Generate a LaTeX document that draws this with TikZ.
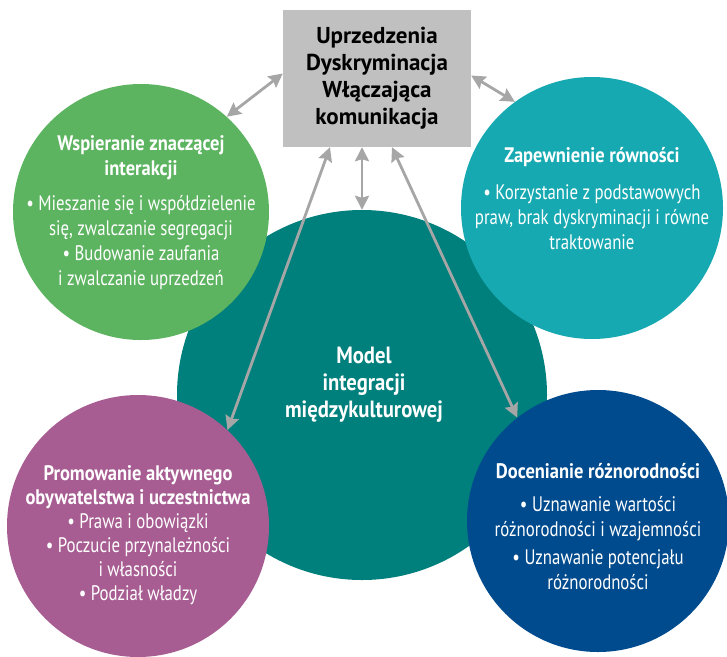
\documentclass[tikz,border=0pt]{standalone}
\usepackage{fontspec}
\setmainfont{PT Sans}
\newfontfamily\condfont{PT Sans}[FakeStretch=0.8]
\newfontfamily\headfont{PT Sans}[FakeStretch=0.88]
\newcommand{\hd}[1]{{\headfont\bfseries\fontsize{21}{26}\selectfont #1}}
\usetikzlibrary{positioning,arrows.meta}
\definecolor{boxgrey}{RGB}{192,192,192}
\definecolor{arrowgrey}{RGB}{166,166,166}
\definecolor{modelteal}{RGB}{0,128,124}
\definecolor{interactgreen}{RGB}{92,179,96}
\definecolor{equalcyan}{RGB}{23,169,177}
\definecolor{civicpurple}{RGB}{167,93,146}
\definecolor{diversblue}{RGB}{0,75,141}

\begin{document}
\begin{tikzpicture}[x=1pt, y=-1pt, >={Stealth[length=14pt,width=14pt,inset=2pt]},
  font=\condfont\fontsize{21}{25}\selectfont,
  blob/.style={circle, inner sep=0pt},
  blobtext/.style={text=white, align=center},
  link/.style={<->, draw=arrowgrey, line width=2.8pt}]
  \useasboundingbox (0,0) rectangle (727,656);
  % the model in the middle, the four fields round it
  \node[blob, fill=modelteal, minimum size=370pt] (model) at (362,395) {};
  \node[blob, fill=interactgreen, minimum size=256pt] (interact) at (141,212) {};
  \node[blob, fill=equalcyan, minimum size=262pt] (equal) at (592,208) {};
  \node[blob, fill=civicpurple, minimum size=262pt] (civic) at (138,526) {};
  \node[blob, fill=diversblue, minimum size=262pt] (divers) at (598,521) {};
  \node[fill=boxgrey, minimum width=188pt, minimum height=137pt,
        font=\fontsize{23}{27}\selectfont\bfseries, align=center] (barriers) at (377,78.5)
     {Uprzedzenia\\ Dyskryminacja\\ Włączająca\\ komunikacja};

  \node[blobtext, font=\headfont\fontsize{23.5}{27}\selectfont\bfseries] (modeltext) at (364,385)
     {Model\\ integracji\\ międzykulturowej};
  \node[blobtext] (interacttext) at (141,213)
     {\hd{Wspieranie znaczącej}\\ \hd{interakcji}\\[10pt]
      • Mieszanie się i współdzielenie\\ się, zwalczanie segregacji\\
      • Budowanie zaufania\\ i zwalczanie uprzedzeń};
  \node[blobtext] (equaltext) at (592,199)
     {\hd{Zapewnienie równości}\\[12pt]
      • Korzystanie z podstawowych\\ praw, brak dyskryminacji i równe\\ traktowanie};
  \node[blobtext, font=\condfont\fontsize{21}{24}\selectfont] (civictext) at (138,535)
     {\hd{Promowanie aktywnego}\\ \hd{obywatelstwa i uczestnictwa}\\
      • Prawa i obowiązki\\ • Poczucie przynależności\\ i własności\\ • Podział władzy};
  \node[blobtext] (diverstext) at (598,527)
     {\hd{Docenianie różnorodności}\\[8pt]
      • Uznawanie wartości\\ różnorodności i wzajemności\\[3pt]
      • Uznawanie potencjału\\ różnorodności};

  \draw[link] (interact.48) -- ([yshift=5pt]barriers.west);
  \draw[link] ([yshift=3pt]barriers.east) -- (equal.126);
  \draw[link] (model.north |- barriers.south) -- (model.north);
  \draw[link] ([xshift=-47pt]barriers.south) -- (civic.47);
  \draw[link] ([xshift=15pt]barriers.south) -- (divers.128);
\end{tikzpicture}
\end{document}
